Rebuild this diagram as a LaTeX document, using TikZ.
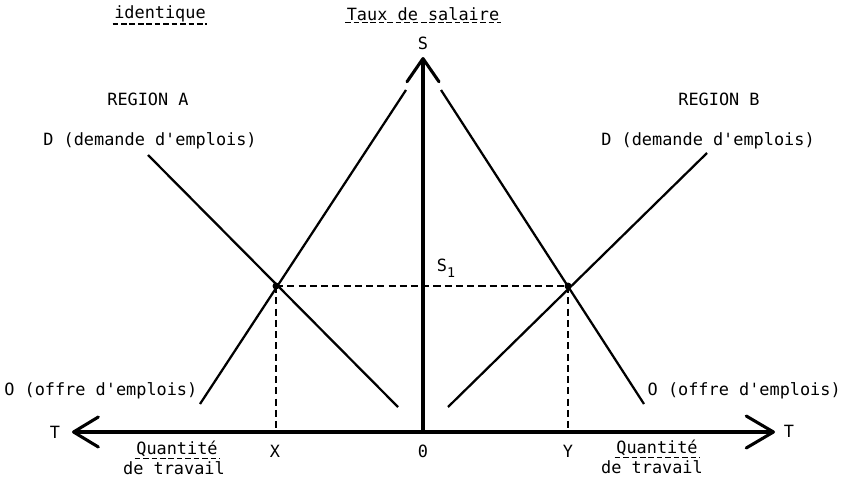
\documentclass[tikz,border=0pt]{standalone}
\usepackage{fontspec}
\setmonofont{DejaVu Sans Mono}
\usepackage{tikz}
\usetikzlibrary{arrows.meta, calc}
\tikzset{
  every picture/.style={font=\ttfamily},
  etiq/.style={inner sep=1pt, font=\ttfamily\fontsize{12}{14}\selectfont},
  axe/.style={line width=2.6pt},
  courbe/.style={line width=1.6pt},
  pointille/.style={line width=1.8pt, dash pattern=on 5pt off 3pt},
  souligne/.style={line width=0.9pt, dash pattern=on 4pt off 2pt},
}

\begin{document}
\begin{tikzpicture}[x=0.025cm, y=-0.025cm]
  \useasboundingbox (0,0) rectangle (849,480);
  % titres
  \node[etiq] (identique) at (160,14) {identique};
  \node[etiq] (taux) at (423,14) {Taux de salaire};
  \draw[souligne] (identique.south west) -- (identique.south east);
  \draw[souligne] (taux.south west) -- (taux.south east);
  \node[etiq] (s) at (423,43) {S};
  \node[etiq] (regA) at (148,99) {REGION A};
  \node[etiq] (regB) at (719,99) {REGION B};
  \node[etiq] (demA) at (150,141) {D (demande d'emplois)};
  \node[etiq] (demB) at (708,141) {D (demande d'emplois)};
  \node[etiq, anchor=east] (offA) at (199,391) {O (offre d'emplois)};
  \node[etiq, anchor=west] (offB) at (646,391) {O (offre d'emplois)};
  \node[etiq] (s1) at (446,268) {S\raisebox{-0.6ex}{\fontsize{9.5}{10}\selectfont 1}};
  % axes
  \coordinate (origine) at (423,432);
  \coordinate (gauche) at (72,432);
  \coordinate (droite) at (775,432);
  \coordinate (haut) at (423,57);
  \draw[axe, -{Straight Barb[length=0.58cm, width=0.8cm, line width=2.2pt, round]}] (origine) -- (haut);
  \draw[axe, {Straight Barb[length=0.62cm, width=0.75cm, line width=2.2pt, round]}-{Straight Barb[length=0.68cm, width=0.8cm, line width=2.2pt, round]}] (gauche) -- (droite);
  \node[etiq] (tA) at (55,432) {T};
  \node[etiq] (tB) at (789,431) {T};
  \node[etiq] (x) at (275,451) {X};
  \node[etiq] (zero) at (423,451) {0};
  \node[etiq] (y) at (568,451) {Y};
  \node[etiq] (quantA) at (177,449) {Quantité};
  \node[etiq] (travA) at (174,468) {de travail};
  \node[etiq] (quantB) at (657,448) {Quantité};
  \node[etiq] (travB) at (652,467) {de travail};
  \draw[souligne] (quantA.south west) -- (quantA.south east);
  \draw[souligne] (quantB.south west) -- (quantB.south east);
  % courbes d'offre et de demande
  \coordinate (eqA) at (276,286);
  \coordinate (eqB) at (568,286);
  \coordinate (offA1) at (200,404);
  \coordinate (offA2) at (406,90);
  \coordinate (demA1) at (148,155);
  \coordinate (demA2) at (398,407);
  \coordinate (offB1) at (441,90);
  \coordinate (offB2) at (644,404);
  \coordinate (demB1) at (448,407);
  \coordinate (demB2) at (707,153);
  \draw[courbe] (offA1) -- (offA2);
  \draw[courbe] (demA1) -- (demA2);
  \draw[courbe] (offB1) -- (offB2);
  \draw[courbe] (demB1) -- (demB2);
  % equilibre
  \draw[pointille] (eqA) -- (eqB);
  \draw[pointille] (eqA) -- (eqA |- origine);
  \draw[pointille] (eqB) -- (eqB |- origine);
  \fill (eqA) circle (3.5);
  \fill (eqB) circle (3.5);
\end{tikzpicture}
\end{document}
